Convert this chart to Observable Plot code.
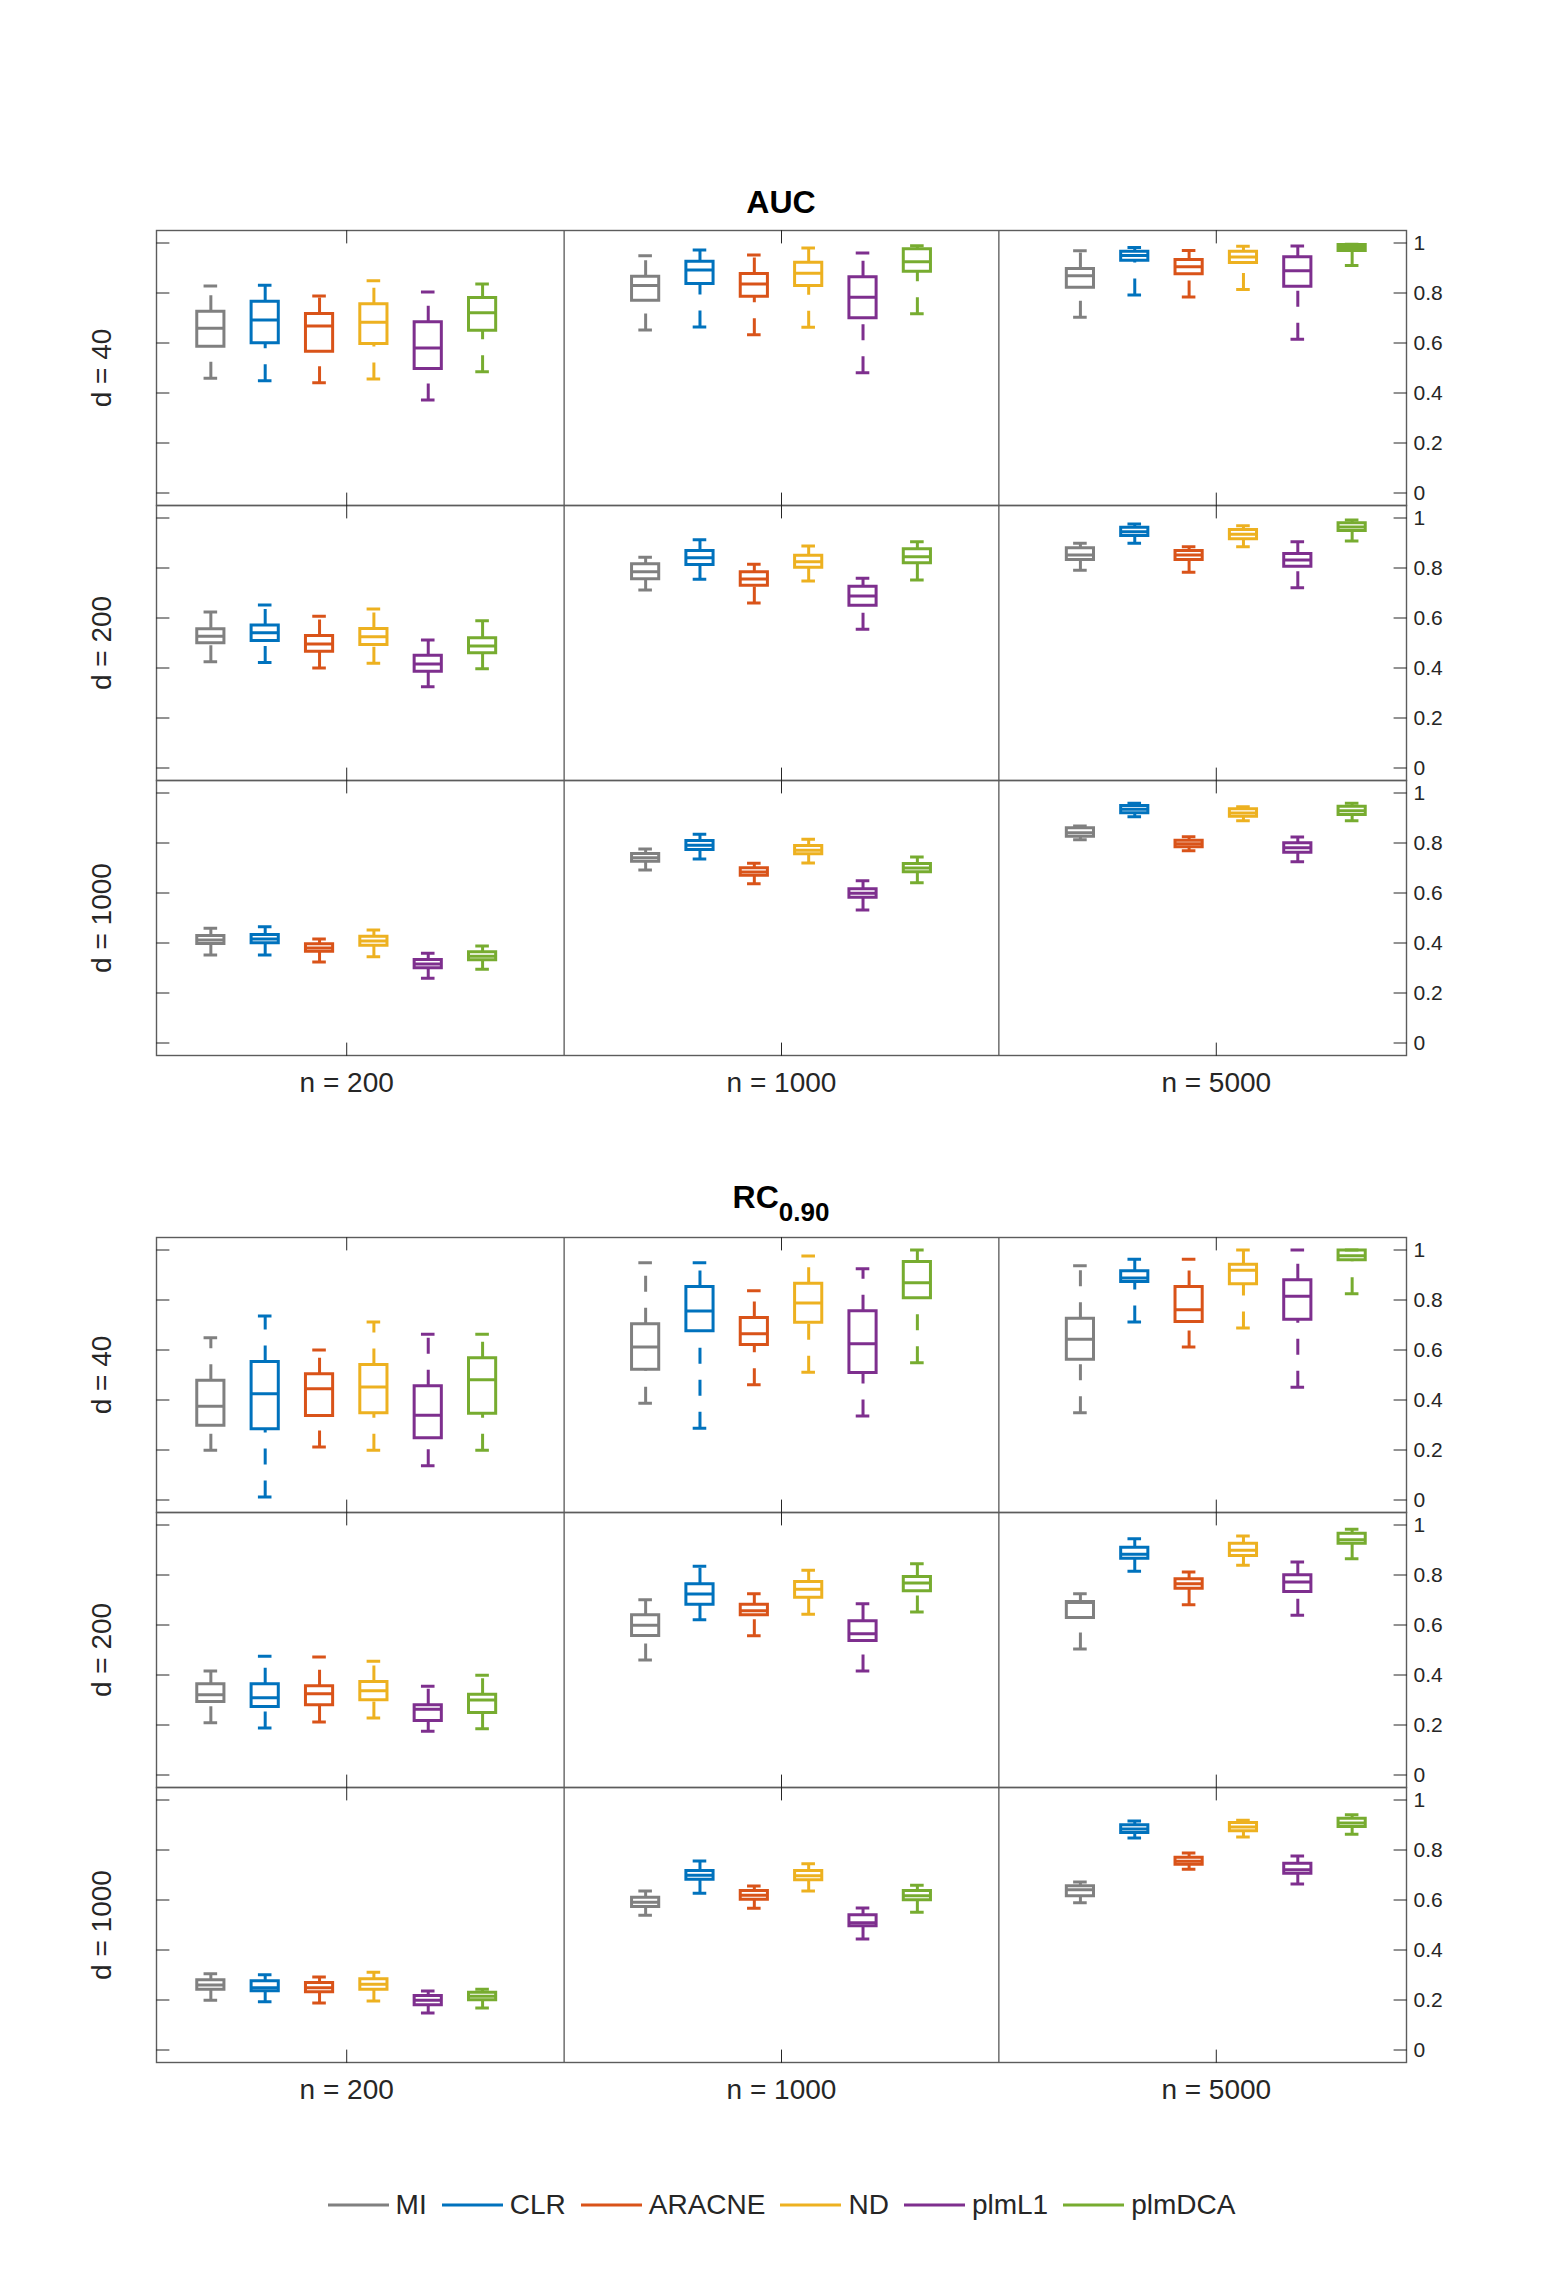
<!DOCTYPE html>
<html>
<head>
<meta charset="utf-8">
<script src="https://cdn.jsdelivr.net/npm/d3@7"></script>
<script src="https://cdn.jsdelivr.net/npm/@observablehq/plot@0.6"></script>
<style>
  html, body { margin: 0; padding: 0; background: #fff; }
  #page { position: relative; width: 1563px; height: 2292px; font-family: "Liberation Sans", Arial, Helvetica, sans-serif; color: #262626; }
  .abs { position: absolute; left: 0; }
  .legend { display: flex; justify-content: center; align-items: center; width: 1563px; height: 40px; font-size: 28px; }
  .legend .item { display: flex; align-items: center; margin: 0 7.5px; }
  .legend .item span { margin-left: 7px; line-height: 40px; }
</style>
</head>
<body>
<div id="page"></div>
<script>
// ---------- data ----------
const methods = ["MI", "CLR", "ARACNE", "ND", "plmL1", "plmDCA"];
const colors  = ["#808080", "#0072BD", "#D95319", "#EDB120", "#7E2F8E", "#77AC30"];
const nLabels = ["n = 200", "n = 1000", "n = 5000"];
const dLabels = ["d = 40", "d = 200", "d = 1000"];
const yTicks  = [0, 0.2, 0.4, 0.6, 0.8, 1];

// each entry: [lower whisker, q1, median, q3, upper whisker]; n = 200 (6 methods), n = 1000, n = 5000
const auc_d40 = [
  [0.459,0.585,0.659,0.725,0.828],[0.449,0.599,0.692,0.765,0.831],[0.441,0.565,0.668,0.716,0.788],
  [0.456,0.596,0.683,0.755,0.849],[0.372,0.496,0.580,0.683,0.804],[0.485,0.649,0.721,0.780,0.836],
  [0.652,0.769,0.830,0.865,0.949],[0.664,0.836,0.892,0.925,0.972],[0.633,0.785,0.836,0.876,0.952],
  [0.663,0.828,0.879,0.921,0.980],[0.481,0.699,0.783,0.863,0.960],[0.717,0.885,0.925,0.975,0.989],
  [0.703,0.821,0.869,0.896,0.969],[0.792,0.929,0.950,0.965,0.982],[0.784,0.875,0.905,0.932,0.970],
  [0.814,0.920,0.944,0.965,0.987],[0.615,0.825,0.889,0.943,0.988],[0.910,0.968,0.982,0.992,0.995]
];
const auc_d200 = [
  [0.425,0.499,0.527,0.555,0.624],[0.422,0.508,0.541,0.570,0.652],[0.400,0.465,0.496,0.528,0.607],
  [0.419,0.492,0.525,0.556,0.636],[0.325,0.385,0.416,0.449,0.512],[0.397,0.459,0.488,0.519,0.589],
  [0.712,0.755,0.785,0.815,0.843],[0.755,0.812,0.841,0.868,0.913],[0.660,0.729,0.756,0.783,0.815],
  [0.748,0.801,0.825,0.849,0.888],[0.555,0.649,0.688,0.725,0.759],[0.752,0.819,0.845,0.875,0.905],
  [0.791,0.832,0.852,0.879,0.899],[0.899,0.928,0.945,0.961,0.976],[0.783,0.832,0.852,0.868,0.885],
  [0.885,0.915,0.935,0.952,0.969],[0.721,0.805,0.832,0.856,0.905],[0.908,0.948,0.964,0.979,0.992]
];
const auc_d1000 = [
  [0.352,0.396,0.412,0.428,0.459],[0.352,0.399,0.416,0.432,0.465],[0.324,0.365,0.380,0.395,0.416],
  [0.345,0.389,0.408,0.425,0.452],[0.259,0.299,0.316,0.332,0.359],[0.295,0.331,0.347,0.363,0.388],
  [0.692,0.725,0.741,0.756,0.776],[0.736,0.772,0.791,0.808,0.835],[0.637,0.669,0.684,0.699,0.719],
  [0.720,0.755,0.771,0.788,0.815],[0.532,0.581,0.599,0.615,0.649],[0.641,0.683,0.700,0.716,0.744],
  [0.813,0.825,0.841,0.859,0.868],[0.905,0.919,0.935,0.948,0.959],[0.769,0.783,0.797,0.809,0.825],
  [0.889,0.905,0.920,0.935,0.945],[0.725,0.761,0.781,0.799,0.824],[0.889,0.912,0.929,0.945,0.959]
];
const rc_d40 = [
  [0.199,0.297,0.375,0.477,0.649],[0.012,0.283,0.425,0.552,0.736],[0.212,0.336,0.445,0.503,0.600],
  [0.199,0.347,0.452,0.540,0.712],[0.137,0.247,0.339,0.455,0.663],[0.199,0.345,0.481,0.567,0.663],
  [0.387,0.521,0.612,0.703,0.949],[0.287,0.675,0.756,0.852,0.949],[0.461,0.620,0.665,0.728,0.837],
  [0.511,0.709,0.788,0.865,0.976],[0.336,0.508,0.625,0.755,0.925],[0.549,0.807,0.869,0.952,1.000],
  [0.349,0.561,0.643,0.725,0.937],[0.712,0.872,0.888,0.915,0.963],[0.612,0.712,0.761,0.852,0.963],
  [0.688,0.863,0.919,0.941,1.000],[0.451,0.721,0.815,0.879,1.000],[0.825,0.959,0.977,0.998,1.000]
];
const rc_d200 = [
  [0.209,0.292,0.321,0.363,0.416],[0.188,0.272,0.309,0.363,0.475],[0.212,0.279,0.325,0.355,0.472],
  [0.228,0.299,0.337,0.372,0.455],[0.175,0.216,0.263,0.279,0.355],[0.185,0.248,0.300,0.321,0.399],
  [0.460,0.556,0.599,0.639,0.701],[0.621,0.681,0.724,0.763,0.835],[0.557,0.639,0.657,0.681,0.725],
  [0.643,0.709,0.743,0.772,0.819],[0.416,0.536,0.565,0.615,0.685],[0.652,0.735,0.768,0.792,0.845],
  [0.504,0.628,0.690,0.692,0.725],[0.815,0.865,0.883,0.909,0.945],[0.681,0.745,0.765,0.783,0.812],
  [0.839,0.876,0.899,0.925,0.956],[0.639,0.732,0.772,0.799,0.852],[0.865,0.925,0.941,0.965,0.983]
];
const rc_d1000 = [
  [0.199,0.241,0.260,0.279,0.305],[0.193,0.235,0.249,0.275,0.301],[0.188,0.231,0.249,0.268,0.292],
  [0.196,0.241,0.263,0.283,0.311],[0.148,0.179,0.199,0.216,0.236],[0.168,0.199,0.215,0.229,0.243],
  [0.539,0.572,0.591,0.609,0.636],[0.627,0.681,0.699,0.716,0.756],[0.567,0.601,0.619,0.636,0.656],
  [0.636,0.679,0.697,0.716,0.745],[0.444,0.495,0.509,0.539,0.568],[0.551,0.599,0.617,0.636,0.659],
  [0.589,0.615,0.641,0.655,0.672],[0.848,0.868,0.884,0.899,0.916],[0.723,0.741,0.755,0.769,0.788],
  [0.852,0.875,0.892,0.908,0.919],[0.664,0.705,0.721,0.745,0.776],[0.863,0.892,0.908,0.925,0.941]
];

// ---------- layout helpers (derived from the categories) ----------
const groupStride = methods.length + 2;                       // 8
const groupCenters = nLabels.map((_, g) => g * groupStride + (methods.length + 1) / 2);
const groupBounds = groupCenters.slice(1).map((c, i) => (c + groupCenters[i]) / 2);
const xDomain = [0, nLabels.length * groupStride - 1];
const yDomain = [-0.05, 1.05];
const boxHalf = 0.25, capHalf = 0.125, lw = 3;

function buildRows(block) {
  const out = [];
  block.forEach((arr, di) => arr.forEach(([lo, q1, med, q3, hi], k) => {
    const g = Math.floor(k / methods.length), m = k % methods.length;
    out.push({d: dLabels[di], n: nLabels[g], method: methods[m], pos: g * groupStride + m + 1, lo, q1, med, q3, hi});
  }));
  return out;
}

const tickShape = {draw(ctx, l) { ctx.moveTo(0, 0); ctx.lineTo(0, -l); }};
const tickOpts = {length: 12.5, anchor: "start", shape: tickShape, stroke: "#262626", strokeWidth: 1};

function makeBlock(rows) {
  return Plot.plot({
    width: 1563, height: 895,
    marginLeft: 156, marginRight: 157, marginTop: 10, marginBottom: 60,
    style: {fontFamily: '"Liberation Sans", Arial, Helvetica, sans-serif', color: "#262626", background: "transparent", overflow: "visible"},
    x: {domain: xDomain, axis: null},
    y: {domain: yDomain, axis: null},
    fy: {domain: dLabels, padding: 0, axis: null},
    color: {domain: methods, range: colors},
    marks: [
      Plot.ruleX(groupBounds, {stroke: "#262626", strokeWidth: 1}),
      Plot.frame({stroke: "#5c5c5c", strokeWidth: 1.4}),
      Plot.vector(yTicks, {x: () => xDomain[0], y: d => d, rotate: 90, ...tickOpts}),
      Plot.vector(yTicks, {x: () => xDomain[1], y: d => d, rotate: -90, ...tickOpts}),
      Plot.vector(groupCenters, {x: d => d, y: () => yDomain[0], rotate: 0, ...tickOpts}),
      Plot.vector(groupCenters, {x: d => d, y: () => yDomain[1], rotate: 180, ...tickOpts}),
      Plot.ruleX(rows, {x: "pos", y1: "lo", y2: "q1", fy: "d", stroke: "method", strokeWidth: lw, strokeDasharray: "16,16"}),
      Plot.ruleX(rows, {x: "pos", y1: "q3", y2: "hi", fy: "d", stroke: "method", strokeWidth: lw, strokeDasharray: "16,16"}),
      Plot.ruleY(rows, {y: "hi", x1: d => d.pos - capHalf, x2: d => d.pos + capHalf, fy: "d", stroke: "method", strokeWidth: lw}),
      Plot.ruleY(rows, {y: "lo", x1: d => d.pos - capHalf, x2: d => d.pos + capHalf, fy: "d", stroke: "method", strokeWidth: lw}),
      Plot.rect(rows, {x1: d => d.pos - boxHalf, x2: d => d.pos + boxHalf, y1: "q1", y2: "q3", fy: "d", fill: "none", stroke: "method", strokeWidth: lw}),
      Plot.ruleY(rows, {y: "med", x1: d => d.pos - boxHalf, x2: d => d.pos + boxHalf, fy: "d", stroke: "method", strokeWidth: lw}),
      Plot.axisY({anchor: "right", ticks: yTicks, tickFormat: d => String(d), tickSize: 0, tickPadding: 7, fontSize: 21, label: null}),
      Plot.axisX({anchor: "bottom", ticks: groupCenters, tickFormat: d => nLabels[groupCenters.indexOf(d)], tickSize: 0, tickPadding: 17, fontSize: 28, label: null}),
      Plot.text(dLabels, {fy: d => d, text: d => d, frameAnchor: "left", rotate: -90, dx: -54, fontSize: 28, textAnchor: "middle", lineAnchor: "middle", fill: "#262626"})
    ]
  });
}

const page = document.getElementById("page");
const NS = "http://www.w3.org/2000/svg";

function addTitle(top, build) {
  const svg = document.createElementNS(NS, "svg");
  svg.setAttribute("class", "abs");
  svg.setAttribute("width", 1563);
  svg.setAttribute("height", 70);
  svg.style.top = top + "px";
  svg.style.fontFamily = '"Liberation Sans", Arial, Helvetica, sans-serif';
  build(svg);
  page.appendChild(svg);
}

addTitle(160, svg => {
  const t = document.createElementNS(NS, "text");
  t.setAttribute("x", 781); t.setAttribute("y", 52.7);
  t.setAttribute("text-anchor", "middle"); t.setAttribute("font-weight", "bold");
  t.setAttribute("font-size", 32); t.setAttribute("fill", "#000");
  t.textContent = "AUC";
  svg.appendChild(t);
});

const p1 = makeBlock(buildRows([auc_d40, auc_d200, auc_d1000]));
p1.classList.add("abs"); p1.style.top = "219.5px";
page.appendChild(p1);

addTitle(1160, svg => {
  const t = document.createElementNS(NS, "text");
  t.setAttribute("x", 781); t.setAttribute("y", 48);
  t.setAttribute("text-anchor", "middle"); t.setAttribute("font-weight", "bold"); t.setAttribute("fill", "#000");
  const a = document.createElementNS(NS, "tspan");
  a.setAttribute("font-size", 32); a.textContent = "RC";
  const b = document.createElementNS(NS, "tspan");
  b.setAttribute("font-size", 26); b.setAttribute("dy", 13); b.textContent = "0.90";
  t.appendChild(a); t.appendChild(b);
  svg.appendChild(t);
});

const p2 = makeBlock(buildRows([rc_d40, rc_d200, rc_d1000]));
p2.classList.add("abs"); p2.style.top = "1227px";
page.appendChild(p2);

// legend
const legend = document.createElement("div");
legend.className = "abs legend";
legend.style.top = "2185px";
methods.forEach((m, i) => {
  const item = document.createElement("div");
  item.className = "item";
  const sw = document.createElementNS(NS, "svg");
  sw.setAttribute("width", 61); sw.setAttribute("height", 10);
  const ln = document.createElementNS(NS, "line");
  ln.setAttribute("x1", 0); ln.setAttribute("x2", 61); ln.setAttribute("y1", 5); ln.setAttribute("y2", 5);
  ln.setAttribute("stroke", colors[i]); ln.setAttribute("stroke-width", 3);
  sw.appendChild(ln);
  const tx = document.createElement("span");
  tx.textContent = m;
  item.appendChild(sw); item.appendChild(tx);
  legend.appendChild(item);
});
page.appendChild(legend);
</script>
</body>
</html>
